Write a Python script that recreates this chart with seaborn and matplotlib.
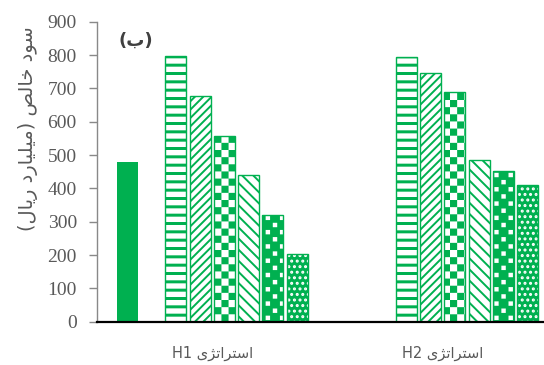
import numpy as np
import pandas as pd
import matplotlib
matplotlib.use('Agg')
import matplotlib.pyplot as plt
import matplotlib.hatch as mhatch
from matplotlib.path import Path
from matplotlib.colors import to_hex
import seaborn as sns

# data
strategies = ['استراتژی H1', 'استراتژی H2']
series = ['base', 'gap', 's1', 's2', 's3', 's4', 's5', 's6']
h1_profit = [479, np.nan, 796, 676, 558, 439, 320, 202]
h2_profit = [np.nan, np.nan, 795, 746, 689, 484, 452, 409]
y_label = 'سود خالص (میلیارد ریال)'
panel_tag = '(ب)'

GREEN = '#00B050'
GREY = '#595959'
AXIS_GREY = '#898989'
plt.rcParams['hatch.linewidth'] = 1.4


# --- minimal Persian shaping (matplotlib has no RTL / joining support) ---
FORMS = {
    'ا': ('\ufe8d', '\ufe8e', None, None),
    'ب': ('\ufe8f', '\ufe90', '\ufe91', '\ufe92'),
    'ت': ('\ufe95', '\ufe96', '\ufe97', '\ufe98'),
    'خ': ('\ufea5', '\ufea6', '\ufea7', '\ufea8'),
    'د': ('\ufea9', '\ufeaa', None, None),
    'ر': ('\ufead', '\ufeae', None, None),
    'ژ': ('\ufb8a', '\ufb8b', None, None),
    'س': ('\ufeb1', '\ufeb2', '\ufeb3', '\ufeb4'),
    'ص': ('\ufeb9', '\ufeba', '\ufebb', '\ufebc'),
    'ل': ('\ufedd', '\ufede', '\ufedf', '\ufee0'),
    'م': ('\ufee1', '\ufee2', '\ufee3', '\ufee4'),
    'و': ('\ufeed', '\ufeee', None, None),
    'ی': ('\ufbfc', '\ufbfd', '\ufbfe', '\ufbff'),
}
MIRROR = {'(': ')', ')': '('}


def shape_word(word):
    out = []
    for i, ch in enumerate(word):
        if ch not in FORMS:
            out.append(MIRROR.get(ch, ch))
            continue
        iso, fin, ini, med = FORMS[ch]
        prev = word[i - 1] if i else ''
        nxt = word[i + 1] if i + 1 < len(word) else ''
        from_prev = prev in FORMS and FORMS[prev][2] is not None
        to_next = ini is not None and nxt in FORMS
        if from_prev and to_next:
            out.append(med)
        elif from_prev:
            out.append(fin)
        elif to_next:
            out.append(ini)
        else:
            out.append(iso)
    return ''.join(reversed(out))


def rtl(text):
    words = [shape_word(w) if any(c in FORMS for c in w) else w
             for w in text.split(' ')]
    return ' '.join(reversed(words))


# --- extra hatch patterns built from filled boxes (tile = 1 inch) ---
def _pad():
    return (plt.rcParams['hatch.linewidth'] / 72) / 2


def _put_boxes(boxes, vertices, codes):
    for n, (x0, y0, w, h) in enumerate(boxes):
        vertices[5 * n:5 * n + 5] = [(x0, y0), (x0 + w, y0), (x0 + w, y0 + h),
                                     (x0, y0 + h), (x0, y0)]
        codes[5 * n:5 * n + 5] = [Path.MOVETO, Path.LINETO, Path.LINETO,
                                  Path.LINETO, Path.CLOSEPOLY]


class BlockHatch(mhatch.HatchPatternBase):
    key = 'k'
    cells = 14
    frac = 1.0

    def __init__(self, hatch, density):
        self.boxes = []
        if hatch and self.key in hatch:
            c = 1.0 / self.cells
            pad = _pad()
            side = c * self.frac - 2 * pad
            off = (c - c * self.frac) / 2 + pad
            self.boxes = [(i * c + off, j * c + off, side, side)
                          for i in range(self.cells) for j in range(self.cells)
                          if (i + j) % 2 == 0]
        self.num_vertices = 5 * len(self.boxes)

    def set_vertices_and_codes(self, vertices, codes):
        _put_boxes(self.boxes, vertices, codes)


class WeaveHatch(BlockHatch):
    key = 'w'
    cells = 14
    frac = 0.62


class StripeHatch(mhatch.HatchPatternBase):
    key = 'h'
    rows = 12
    thick = 0.03

    def __init__(self, hatch, density):
        self.boxes = []
        if hatch and self.key in hatch:
            pad = _pad()
            self.boxes = [(pad, r / self.rows + pad, 1 - 2 * pad, self.thick - 2 * pad)
                          for r in range(self.rows)]
        self.num_vertices = 5 * len(self.boxes)

    def set_vertices_and_codes(self, vertices, codes):
        _put_boxes(self.boxes, vertices, codes)


mhatch._hatch_types.extend([BlockHatch, WeaveHatch, StripeHatch])
mhatch._validate_hatch_pattern = lambda hatch: None

styles = {
    'base': dict(fc=GREEN, ec=GREEN, hatch=None, lw=0),
    's1': dict(fc='white', ec=GREEN, hatch='h', lw=1),
    's2': dict(fc='white', ec=GREEN, hatch='////', lw=1),
    's3': dict(fc='white', ec=GREEN, hatch='k', lw=1),
    's4': dict(fc='white', ec=GREEN, hatch='\\\\\\', lw=1),
    's5': dict(fc=GREEN, ec='white', hatch='w', lw=0),
    's6': dict(fc=GREEN, ec='white', hatch='...', lw=0),
}

df = pd.DataFrame({
    'strategy': np.repeat(strategies, len(series)),
    'series': series * len(strategies),
    'profit': h1_profit + h2_profit,
})

# unique key colours so each drawn bar can be matched back to its series
key_colors = {s: '#0000%02x' % (i + 1) for i, s in enumerate(series)}
color_to_series = {v: k for k, v in key_colors.items()}

fig = plt.figure(figsize=(5.44, 3.65), dpi=100)
ax = fig.add_axes([97 / 544, 43.3 / 365, 460.8 / 544, 300 / 365])

sns.barplot(data=df, x='strategy', y='profit', hue='series', order=strategies,
            hue_order=series, palette=key_colors, saturation=1, width=0.844,
            gap=0.137, errorbar=None, legend=False, ax=ax)

for p in list(ax.patches):
    name = color_to_series.get(to_hex(p.get_facecolor()))
    if name is None or name not in styles:
        continue
    st = styles[name]
    p.set_facecolor(st['fc'])
    p.set_edgecolor(st['ec'])
    p.set_linewidth(st['lw'])
    p.set_hatch(st['hatch'])
    if st['ec'] == 'white':
        ax.add_patch(plt.Rectangle(p.get_xy(), p.get_width(), p.get_height(),
                                   fill=False, ec=GREEN, lw=1))

ax.set_xlim(-0.5, 1.5)
ax.set_ylim(0, 900)
ax.set_yticks(range(0, 901, 100))
ax.set_xticks(range(len(strategies)))
ax.set_xticklabels([rtl(s) for s in strategies], family=['DejaVu Sans'],
                   fontsize=10.5, color=GREY)
for lab in ax.get_yticklabels():
    lab.set_family(['Liberation Serif'])
    lab.set_fontsize(14)
    lab.set_color(GREY)

ax.tick_params(axis='x', length=0, pad=17)
ax.tick_params(axis='y', direction='out', length=5.5, width=1, color=AXIS_GREY, pad=9)
for side in ['top', 'right']:
    ax.spines[side].set_visible(False)
ax.spines['left'].set_color(AXIS_GREY)
ax.spines['left'].set_linewidth(1)
ax.spines['bottom'].set_color('black')
ax.spines['bottom'].set_linewidth(1.6)
ax.spines['bottom'].set_zorder(5)

ax.set_xlabel('')
ax.set_ylabel(rtl(y_label), family=['DejaVu Sans'], fontsize=14, color=GREY)
ax.yaxis.set_label_coords(-0.128, 0.643)

ax.text(0.0835, 0.935, rtl(panel_tag), transform=ax.transAxes, ha='center',
        va='center', fontsize=13, fontweight='bold', color='#404040',
        family=['DejaVu Sans'])

fig.savefig('out.png', dpi=100)
